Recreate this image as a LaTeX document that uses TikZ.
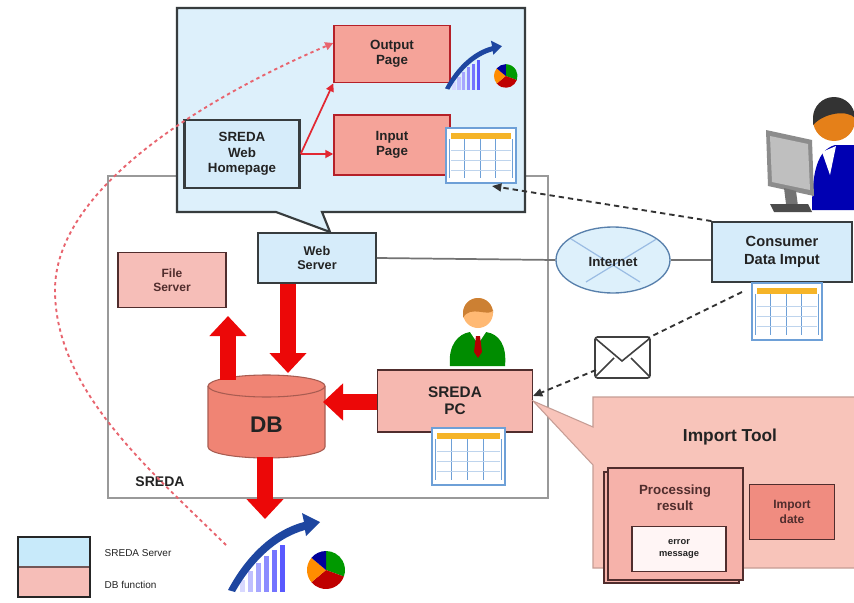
\documentclass[tikz,border=0pt]{standalone}
\usepackage{fontspec}
\setmainfont{Liberation Sans}
\usetikzlibrary{arrows.meta,shapes.geometric,calc}

\definecolor{paleblue}{RGB}{221,240,251}
\definecolor{boxblue}{RGB}{214,236,250}
\definecolor{legendblue}{RGB}{200,234,250}
\definecolor{edgedark}{RGB}{55,60,62}
\definecolor{pagesalmon}{RGB}{245,163,153}
\definecolor{lightsalmon}{RGB}{246,190,184}
\definecolor{pcsalmon}{RGB}{246,184,176}
\definecolor{dbsalmon}{RGB}{240,132,116}
\definecolor{toolsalmon}{RGB}{248,196,186}
\definecolor{procsalmon}{RGB}{246,178,170}
\definecolor{datesalmon}{RGB}{240,140,128}
\definecolor{edgebrown}{RGB}{80,45,45}
\definecolor{fatred}{RGB}{236,8,8}
\definecolor{linkred}{RGB}{226,40,50}
\definecolor{dotred}{RGB}{232,100,110}
\definecolor{txt}{RGB}{35,35,35}
\definecolor{tblblue}{RGB}{110,160,215}
\definecolor{tblgold}{RGB}{245,180,40}
\definecolor{sweepblue}{RGB}{30,70,160}

% chart pictogram: rising bars, sweeping arrow and a pie
\newcommand\chartIcon[3]{%
  \begin{scope}[shift={(#1,#2)},scale=#3]
    \fill[blue!15] (12,80) rectangle (17,68);
    \fill[blue!25] (20,80) rectangle (25,59);
    \fill[blue!35] (28,80) rectangle (33,51);
    \fill[blue!45] (36,80) rectangle (41,44);
    \fill[blue!55] (44,80) rectangle (49,38);
    \fill[blue!65] (52,80) rectangle (57,33);
    \fill[sweepblue] (0,78) .. controls (18,44) and (45,18) .. (76,10)
      -- (74,1) -- (92,10) -- (78,24) -- (77,18)
      .. controls (48,26) and (24,50) .. (7,80) -- cycle;
    \fill[green!60!black] (98,58) -- ++(-90:19) arc[start angle=-90,end angle=20,radius=19] -- cycle;
    \fill[red!75!black] (98,58) -- ++(20:19) arc[start angle=20,end angle=140,radius=19] -- cycle;
    \fill[orange!90!yellow] (98,58) -- ++(140:19) arc[start angle=140,end angle=220,radius=19] -- cycle;
    \fill[blue!60!black] (98,58) -- ++(220:19) arc[start angle=220,end angle=270,radius=19] -- cycle;
  \end{scope}}

% spreadsheet pictogram: frame, gold header and columns
\newcommand\tableIcon[4]{%
  \begin{scope}[shift={(#1,#2)}]
    \fill[white] (0,0) rectangle (#3,#4);
    \fill[tblgold] (5,5) rectangle ({#3-5},11);
    \foreach \f in {0.05,0.27,0.49,0.71,0.95}
      \draw[tblblue, line width=0.8pt] ({\f*#3},11) -- ({\f*#3},{#4-5});
    \foreach \g in {0.4,0.58,0.76}
      \draw[tblblue!45, line width=0.4pt] (5,{\g*#4}) -- ({#3-5},{\g*#4});
    \draw[tblblue, line width=1pt] (0,0) rectangle (#3,#4);
  \end{scope}}

\begin{document}
\begin{tikzpicture}[x=0.75pt,y=-0.75pt,
  bluebox/.style={draw=edgedark, line width=1.4pt, fill=boxblue, align=center,
    inner sep=1pt, text=txt, font=\bfseries},
  pinkbox/.style={draw=edgebrown, line width=1.1pt, align=center,
    inner sep=1pt, text=txt, font=\bfseries},
  fatarrow/.style={draw=fatred, line width=12.5pt, -{Triangle[length=15pt,width=27pt]}},
  linkarrow/.style={draw=linkred, line width=1.3pt, -{Triangle[length=6pt,width=6pt]}},
  dasharrow/.style={draw=black!80, line width=1.4pt, dash pattern=on 4pt off 3pt,
    -{Triangle[length=7pt,width=6pt]}},
  reddots/.style={draw=dotred, line width=1.4pt, dash pattern=on 2.5pt off 2.5pt,
    -{Triangle[length=6pt,width=6pt]}},
  graylink/.style={draw=black!55, line width=1.3pt}]

\useasboundingbox (0,0) rectangle (854,603);
\fill[white] (0,0) rectangle (854,603);

% SREDA system boundary
\draw[black!40, line width=1.3pt] (108,176) rectangle (548,498);
\node[font=\bfseries\fontsize{10.5}{12}\selectfont, text=txt] (sredalbl) at (160,482) {SREDA};

% web page panel with its pointer to the web server
\path[fill=paleblue, draw=edgedark, line width=1.6pt]
  (177,8) -- (525,8) -- (525,212) -- (322,212) -- (330,232) -- (276,212) -- (177,212) -- cycle;

\node[bluebox, line width=2pt, minimum width=86pt, minimum height=51pt,
  font=\bfseries\fontsize{10}{11.5}\selectfont] (home) at (242,154) {SREDA\\Web\\Homepage};
\node[pinkbox, draw=linkred!80!black, fill=pagesalmon, minimum width=87pt, minimum height=43pt,
  font=\bfseries\fontsize{10}{11.5}\selectfont] (outp) at (392,54) {Output\\Page};
\node[pinkbox, draw=linkred!80!black, fill=pagesalmon, minimum width=87pt, minimum height=45pt,
  font=\bfseries\fontsize{10}{11.5}\selectfont] (inp) at (392,145) {Input\\Page};

\chartIcon{445}{40}{0.62}
\tableIcon{446}{128}{70}{55}
\coordinate (inTbl) at (492,186);

\draw[linkarrow] (home.east) -- (outp.south west);
\draw[linkarrow] (home.east) -- (home.east -| inp.west);

% servers
\node[bluebox, minimum width=88.5pt, minimum height=38pt,
  font=\bfseries\fontsize{9.5}{11}\selectfont] (ws) at (317,258) {Web\\Server};
\node[pinkbox, fill=lightsalmon, minimum width=81pt, minimum height=41pt,
  font=\bfseries\fontsize{9}{10.5}\selectfont, text=edgebrown] (fs) at (172,280) {File\\Server};

% database cylinder
\path[fill=dbsalmon, draw=dbsalmon!70!black, line width=0.8pt]
  (208,386) -- (208,447) arc[start angle=180,end angle=0,x radius=58.5,y radius=11]
  -- (325,386) arc[start angle=0,end angle=-180,x radius=58.5,y radius=11] -- cycle;
\draw[dbsalmon!70!black, line width=0.8pt] (325,386) arc[start angle=0,end angle=180,x radius=58.5,y radius=11];
\node[font=\bfseries\fontsize{17}{19}\selectfont, text=txt] (db) at (266.5,425) {DB};
\coordinate (dbN) at (288,373);
\coordinate (dbUp) at (228,380);
\coordinate (fsIn) at (228,316);
\coordinate (dbE) at (323,402);
\coordinate (dbS) at (265,457);
\coordinate (chartIn) at (265,519);

% SREDA PC and operator
\fill[green!55!black] (450,366) .. controls (448,345) and (458,334) .. (470,332)
  -- (486,332) .. controls (499,334) and (507,345) .. (505,366) -- cycle;
\fill[white] (470,332) -- (486,332) -- (478,344) -- cycle;
\fill[red!70!black] (476,336) -- (480,336) -- (482,352) -- (478,358) -- (474,352) -- cycle;
\fill[orange!55!white] (478,313) circle[radius=15];
\fill[brown!80!orange] (463,313) arc[start angle=180,end angle=360,radius=15] -- (493,310)
  .. controls (490,318) and (470,304) .. (463,318) -- cycle;
\node[pinkbox, fill=pcsalmon, minimum width=116pt, minimum height=46.5pt,
  font=\bfseries\fontsize{11.5}{13}\selectfont] (pc) at (455,401) {SREDA\\PC};
\tableIcon{432}{428}{73}{57}
\coordinate (pcIn) at (533,396);

\draw[fatarrow] (ws.south -| dbN) -- (dbN);
\draw[fatarrow] (dbUp) -- (fsIn);
\draw[fatarrow] (pc.west |- dbE) -- (dbE);
\draw[fatarrow] (dbS) -- (chartIn);

% internet link to the consumer
\node[ellipse, draw=tblblue!80!black, line width=1pt, fill=paleblue, minimum width=85.5pt,
  minimum height=49.5pt, inner sep=0] (inet) at (613,260) {};
\begin{scope}
  \clip (613,260) ellipse[x radius=56,y radius=32];
  \draw[tblblue!70, line width=0.9pt] (560,232) -- (640,282);
  \draw[tblblue!70, line width=0.9pt] (668,232) -- (586,282);
\end{scope}
\node[font=\bfseries\fontsize{10}{12}\selectfont, text=txt] (inettxt) at (613,262) {Internet};
\node[bluebox, minimum width=104.5pt, minimum height=45pt,
  font=\bfseries\fontsize{11}{13}\selectfont] (cdi) at (782,252) {Consumer\\Data Imput};
\draw[graylink] (ws.east) -- (inet.west);
\draw[graylink] (inet.east) -- (inet.east -| cdi.west);

% consumer at a workstation
\fill[blue!70!black] (812,210) .. controls (812,170) and (818,150) .. (835,145)
  -- (854,145) -- (854,210) -- cycle;
\fill[white] (822,152) -- (836,146) -- (830,175) -- cycle;
\fill[orange!60!brown] (834,120) circle[radius=21];
\fill[black!80] (813,118) arc[start angle=180,end angle=360,radius=21] -- (855,118)
  .. controls (848,110) and (825,112) .. (813,125) -- cycle;
\fill[black!45] (766,130) -- (812,140) -- (814,196) -- (768,186) -- cycle;
\fill[black!25] (770,136) -- (808,144) -- (810,190) -- (772,182) -- cycle;
\fill[black!55] (784,188) -- (796,191) -- (798,206) -- (786,204) -- cycle;
\fill[black!70] (770,204) -- (808,204) -- (812,212) -- (774,212) -- cycle;
\tableIcon{752}{283}{70}{57}
\coordinate (cdiTbl) at (742,292);

% mail route to the PC
\draw[line width=1.3pt, black!75, fill=white, rounded corners=2pt] (595,337) rectangle (650,378);
\draw[line width=1.2pt, black!75] (596,339) -- (622,361) -- (649,339);
\draw[line width=1.2pt, black!75] (596,376) -- (614,358);
\draw[line width=1.2pt, black!75] (649,376) -- (631,358);
\coordinate (envR) at (648,338);
\coordinate (envL) at (596,370);
\draw[dasharrow] (cdi.north west) -- (inTbl);
\draw[dasharrow, -] (cdiTbl) -- (envR);
\draw[dasharrow] (envL) -- (pcIn);

% import tool panel
\path[fill=toolsalmon, draw=toolsalmon!80!black, line width=0.8pt]
  (593,397) -- (856,397) -- (856,568) -- (593,568) -- (593,465) -- (pc.east) -- (593,427) -- cycle;
\node[font=\bfseries\fontsize{13}{15}\selectfont, text=txt] (tooltxt) at (730,437) {Import Tool};
\draw[edgebrown, line width=1pt, fill=procsalmon] (604,472) rectangle (739,583);
\node[pinkbox, fill=procsalmon, minimum width=101pt, minimum height=84pt] (proc) at (675.5,524) {};
\node[font=\bfseries\fontsize{10}{12}\selectfont, text=edgebrown, align=center] (proctxt) at (675,498) {Processing\\result};
\node[pinkbox, fill=white!85!pink, minimum width=70.5pt, minimum height=33.5pt,
  font=\bfseries\fontsize{7}{8.5}\selectfont] (err) at (679,549) {error\\message};
\node[pinkbox, fill=datesalmon, minimum width=64pt, minimum height=41pt,
  font=\bfseries\fontsize{9}{11}\selectfont, text=edgebrown] (idate) at (792,512) {Import\\date};

% report output
\chartIcon{228}{512}{1.0}
\coordinate (chartB) at (226,545);
\coordinate (bend) at (55,290);
\draw[reddots] (chartB) .. controls (150,470) and (55,390) .. (bend)
  .. controls (55,190) and (200,100) .. (outp.west |- 0,43);

% legend
\fill[legendblue] (18,537) rectangle (90,567);
\fill[lightsalmon] (18,567) rectangle (90,597);
\draw[edgebrown!80, line width=1.2pt] (18,567) -- (90,567);
\draw[black!85, line width=1.2pt] (18,537) rectangle (90,597);
\node[anchor=west, font=\fontsize{7.5}{9}\selectfont, text=txt] (lgA) at (100,553) {SREDA Server};
\node[anchor=west, font=\fontsize{7.5}{9}\selectfont, text=txt] (lgB) at (100,585) {DB function};
\end{tikzpicture}
\end{document}
